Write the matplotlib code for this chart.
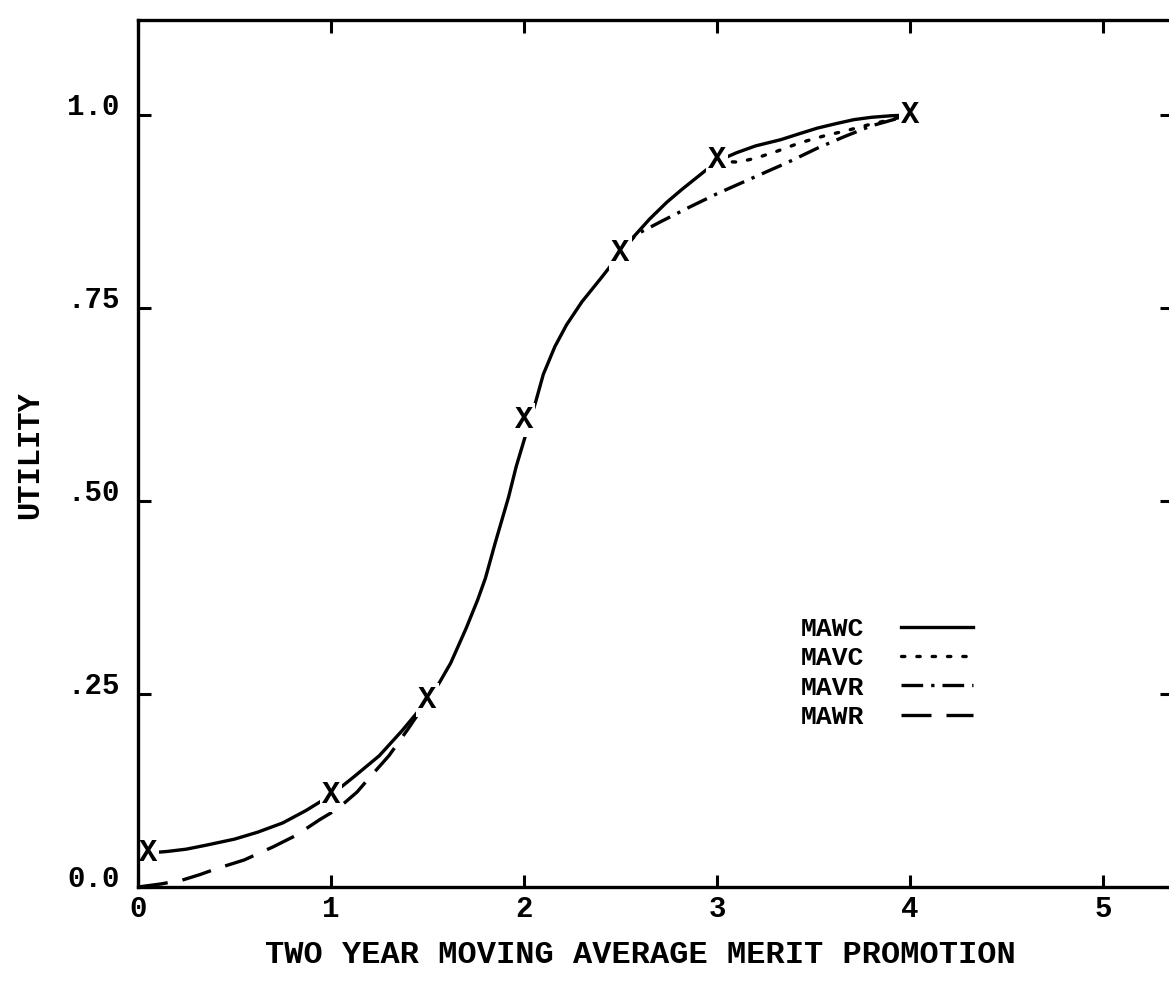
import matplotlib
matplotlib.use("Agg")
import matplotlib.pyplot as plt
import matplotlib.transforms as mtransforms

plt.rcParams["font.family"] = ["Liberation Mono", "DejaVu Sans Mono"]
plt.rcParams["font.weight"] = "bold"

# values
mawc_x = [0.05, 0.15, 0.25, 0.35, 0.5, 0.62, 0.75, 0.87, 1.0, 1.12, 1.25, 1.37, 1.5, 1.56,
          1.62, 1.7, 1.76, 1.8, 1.85, 1.92, 1.96, 2.02, 2.06, 2.1, 2.16, 2.22, 2.3, 2.4, 2.5,
          2.56, 2.65, 2.74, 2.82, 2.9, 3.0, 3.1, 3.2, 3.33, 3.43, 3.52, 3.62, 3.71, 3.8, 3.9,
          4.0]
mawc_y = [0.044, 0.046, 0.049, 0.054, 0.062, 0.071, 0.083, 0.099, 0.119, 0.143, 0.170, 0.203,
          0.242, 0.264, 0.29, 0.335, 0.372, 0.40, 0.445, 0.505, 0.545, 0.595, 0.628, 0.664,
          0.700, 0.728, 0.758, 0.789, 0.821, 0.840, 0.865, 0.887, 0.904, 0.920, 0.940, 0.951,
          0.960, 0.968, 0.976, 0.983, 0.989, 0.994, 0.997, 0.999, 1.0]

mavc_x = [3.0, 3.11, 3.2, 3.31, 3.43, 3.57, 3.66, 3.78, 3.9, 4.0]
mavc_y = [0.94, 0.939, 0.944, 0.953, 0.964, 0.974, 0.979, 0.987, 0.994, 1.0]

mavr_x = [2.5, 2.58, 2.71, 2.86, 3.0, 3.18, 3.37, 3.52, 3.66, 3.8, 4.0]
mavr_y = [0.821, 0.845, 0.862, 0.881, 0.898, 0.918, 0.939, 0.957, 0.972, 0.986, 1.0]

mawr_x = [0.0, 0.12, 0.23, 0.32, 0.41, 0.55, 0.70, 0.82, 0.94, 1.0, 1.07, 1.135, 1.19, 1.3,
          1.4, 1.5]
mawr_y = [0.0, 0.004, 0.009, 0.016, 0.024, 0.035, 0.052, 0.067, 0.087, 0.096, 0.109, 0.123,
          0.139, 0.17, 0.205, 0.242]

point_x = [0.05, 1.0, 1.5, 2.0, 2.5, 3.0, 4.0]
point_y = [0.044, 0.119, 0.242, 0.605, 0.821, 0.942, 1.0]

x_ticks = [0, 1, 2, 3, 4, 5]
x_labels = ["0", "1", "2", "3", "4", "5"]
y_ticks = [0.0, 0.25, 0.5, 0.75, 1.0]
y_labels = ["0.0", ".25", ".50", ".75", "1.0"]

W, H = 1169, 982
fig = plt.figure(figsize=(W / 100, H / 100), dpi=100)
ax = fig.add_axes([138 / W, 95 / H, (1172 - 138) / W, (887 - 20) / H])

lw = 2.4
l_mawc, = ax.plot(mawc_x, mawc_y, color="black", lw=lw, solid_joinstyle="round")
l_mavc, = ax.plot(mavc_x, mavc_y, color="black", lw=lw, dashes=(1, 3.6), dash_capstyle="round")
l_mavr, = ax.plot(mavr_x, mavr_y, color="black", lw=lw, dashes=(6.5, 2.4, 1, 2.4))
l_mawr, = ax.plot(mawr_x, mawr_y, color="black", lw=lw, dashes=(9, 4.5))

for px, py in zip(point_x, point_y):
    ax.text(px, py, "X", ha="center", va="center", fontsize=22, fontweight="bold",
            family=["Liberation Mono"], zorder=2.2,
            bbox=dict(facecolor="white", edgecolor="none", pad=1.5))

ax.set_xlim(0, (1172 - 138) / 193)
ax.set_ylim(0, (887 - 20) / 772)
ax.set_xticks(x_ticks)
ax.set_xticklabels(x_labels)
ax.set_yticks(y_ticks)
ax.set_yticklabels(y_labels)
ax.tick_params(direction="in", length=9, width=2.2, top=True, right=True, labelsize=21)
ax.tick_params(axis="x", pad=6)
ax.tick_params(axis="y", pad=13)
for lbl in ax.get_yticklabels():
    lbl.set_transform(lbl.get_transform() + mtransforms.ScaledTranslation(0, 0.11, fig.dpi_scale_trans))
for sp in ax.spines.values():
    sp.set_linewidth(2.4)

ax.legend([l_mawc, l_mavc, l_mavr, l_mawr], ["MAWC", "MAVC", "MAVR", "MAWR"],
          markerfirst=False, frameon=False, loc="upper left",
          bbox_to_anchor=(801 / W, 1 - 617 / H), bbox_transform=fig.transFigure,
          borderpad=0, borderaxespad=0, fontsize=19, handlelength=2.7,
          handletextpad=1.4, labelspacing=0.2)

fig.text(30 / W, 1 - 455 / H, "UTILITY", rotation=90, ha="center", va="center", fontsize=22)
fig.text(640 / W, 1 - 955 / H, "TWO YEAR MOVING AVERAGE MERIT PROMOTION",
         ha="center", va="center", fontsize=23)

fig.savefig("out.png", dpi=100)
